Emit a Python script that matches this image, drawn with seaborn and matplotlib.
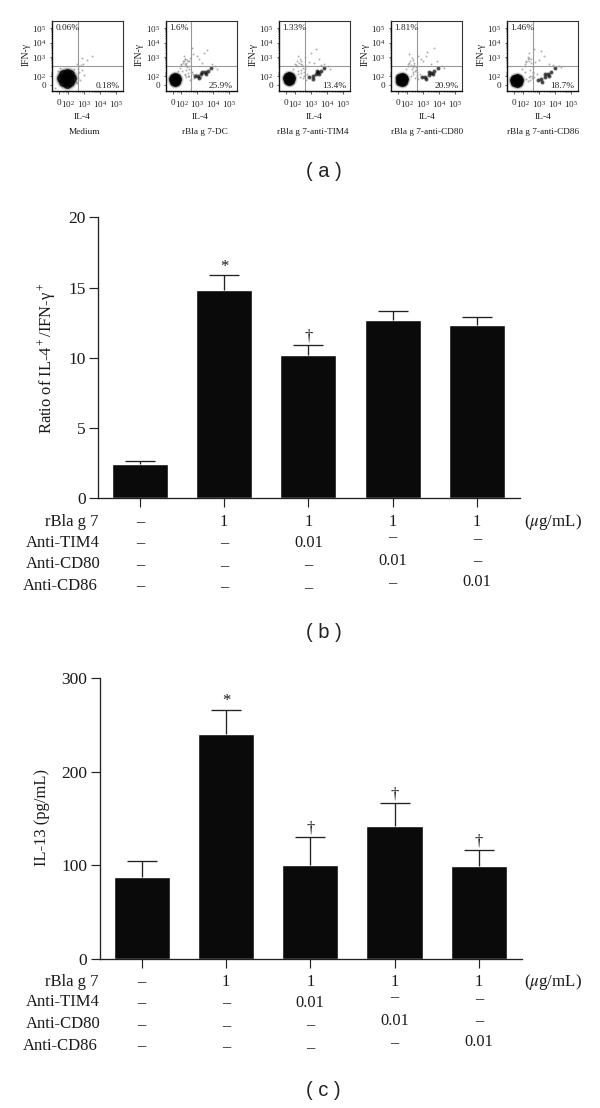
import matplotlib
matplotlib.use('Agg')
import matplotlib.pyplot as plt
import matplotlib.transforms as mtrans
import numpy as np
import seaborn as sns

# panel (a) - flow plots
flow_titles = ['Medium', 'rBla g 7-DC', 'rBla g 7-anti-TIM4', 'rBla g 7-anti-CD80', 'rBla g 7-anti-CD86']
upper_left = ['0.06%', '1.6%', '1.33%', '1.81%', '1.46%']
lower_right = ['0.18%', '25.9%', '13.4%', '20.9%', '18.7%']

# events read by eye, x and y in decades of the axes
blob_x = [
    [1.92, 1.59, 2.25, 1.92, 1.92, 1.69, 2.15, 1.69, 2.15],
    [1.6, 1.4, 1.8, 1.6, 1.6, 1.46, 1.74, 1.46, 1.74],
    [1.64, 1.44, 1.84, 1.64, 1.64, 1.5, 1.78, 1.5, 1.78],
    [1.67, 1.47, 1.87, 1.67, 1.67, 1.53, 1.81, 1.53, 1.81],
    [1.6, 1.4, 1.8, 1.6, 1.6, 1.46, 1.74, 1.46, 1.74],
]
blob_y = [
    [1.53, 1.53, 1.53, 1.13, 1.93, 1.25, 1.25, 1.81, 1.81],
    [1.48, 1.48, 1.48, 1.24, 1.72, 1.31, 1.31, 1.65, 1.65],
    [1.53, 1.53, 1.53, 1.29, 1.77, 1.36, 1.36, 1.7, 1.7],
    [1.48, 1.48, 1.48, 1.24, 1.72, 1.31, 1.31, 1.65, 1.65],
    [1.41, 1.41, 1.41, 1.17, 1.65, 1.24, 1.24, 1.58, 1.58],
]
cluster_x = [
    [],
    [2.85, 3.05, 3.25, 3.45, 3.65, 3.85, 3.3, 3.55, 3.1],
    [2.9, 3.1, 3.3, 3.45, 3.6, 3.8, 3.35, 3.5, 3.15],
    [2.95, 3.15, 3.35, 3.5, 3.7, 3.95, 3.4, 3.6, 3.2],
    [2.95, 3.15, 3.35, 3.55, 3.75, 4.0, 3.4, 3.65, 3.2],
]
cluster_y = [
    [],
    [1.68, 1.72, 1.8, 1.95, 2.05, 2.25, 1.98, 1.85, 1.55],
    [1.6, 1.7, 1.8, 1.95, 2.05, 2.22, 2.02, 1.82, 1.5],
    [1.6, 1.65, 1.75, 1.9, 2.05, 2.25, 1.98, 1.85, 1.48],
    [1.42, 1.5, 1.62, 1.8, 1.98, 2.22, 1.85, 1.72, 1.3],
]
sparse_x = [
    [2.7, 2.85, 2.6, 2.95, 3.2, 3.5, 2.75, 2.55, 3.0, 1.2, 2.9, 2.65, 2.5, 2.45, 2.6, 1.35, 1.5, 2.4, 2.55, 2.7, 2.8],
    [1.9, 2.0, 2.1, 2.2, 2.3, 2.45, 2.55, 2.15, 2.35, 2.05, 2.7, 2.9, 3.1, 3.3, 3.6, 3.9, 4.1, 2.4, 2.6, 2.8, 2.5, 3.0, 3.4, 2.25, 2.65, 4.2, 1.8, 3.2,
     2.0, 2.1, 2.2, 2.3, 2.4, 2.15, 2.25, 2.35, 2.2, 2.3, 2.5, 2.6, 2.7, 2.3, 2.4, 2.55, 2.45, 2.65],
    [1.9, 2.05, 2.15, 2.3, 2.4, 2.5, 2.6, 2.75, 2.85, 3.0, 3.2, 3.5, 3.8, 4.05, 2.2, 2.55, 2.35, 2.7, 3.3, 3.6, 4.2,
     2.0, 2.1, 2.25, 2.35, 2.2, 2.3, 2.4, 2.5, 2.6, 2.7, 2.2, 2.45, 2.55, 2.65],
    [1.95, 2.05, 2.2, 2.3, 2.45, 2.55, 2.7, 2.8, 3.0, 3.25, 3.5, 3.9, 4.2, 2.15, 2.4, 2.6, 2.35, 2.9, 3.2, 3.7, 4.3, 2.5,
     2.05, 2.15, 2.25, 2.35, 2.25, 2.4, 2.5, 2.6, 2.7, 2.3, 2.45, 2.55, 2.65],
    [1.95, 2.1, 2.2, 2.3, 2.4, 2.5, 2.6, 2.7, 2.85, 3.0, 3.3, 3.6, 3.9, 4.25, 2.15, 2.45, 2.55, 2.35, 2.75, 3.1, 2.65, 4.35,
     2.1, 2.2, 2.3, 2.4, 2.5, 2.35, 2.45, 2.55, 2.2, 2.3, 2.45, 2.6, 2.7],
]
sparse_y = [
    [2.35, 2.1, 1.9, 2.55, 2.8, 3.05, 1.4, 2.5, 1.75, 0.9, 2.95, 2.2, 1.3, 1.7, 1.55, 2.05, 2.25, 2.15, 1.2, 1.95, 2.45],
    [2.25, 2.5, 2.7, 2.85, 2.6, 2.75, 2.95, 3.1, 2.3, 2.05, 3.2, 1.8, 2.9, 2.6, 3.5, 2.55, 2.4, 1.7, 1.95, 1.55, 2.15, 3.05, 3.3, 1.85, 3.6, 2.15, 2.05, 1.6,
     2.45, 2.6, 2.5, 2.45, 2.7, 2.75, 2.9, 2.8, 1.75, 1.6, 1.7, 1.5, 1.8, 2.1, 1.9, 1.4, 2.4, 2.0],
    [2.2, 2.45, 2.7, 2.9, 2.55, 2.25, 3.0, 1.85, 2.65, 3.3, 2.6, 2.85, 2.55, 2.4, 3.1, 1.7, 1.9, 2.35, 3.55, 2.45, 2.2,
     2.5, 2.35, 2.6, 2.75, 1.8, 1.6, 2.1, 1.55, 1.75, 1.45, 2.05, 2.45, 1.95, 2.15],
    [2.15, 2.5, 2.75, 2.95, 2.6, 2.3, 3.1, 1.85, 2.7, 3.35, 2.55, 2.75, 2.4, 3.2, 1.85, 1.65, 2.3, 2.9, 3.05, 3.6, 2.25, 2.05,
     2.4, 2.6, 2.45, 2.8, 1.7, 1.95, 1.55, 1.75, 1.5, 2.15, 2.45, 2.1, 1.95],
    [2.2, 2.5, 2.75, 3.0, 3.25, 2.6, 2.3, 3.55, 1.8, 2.8, 3.1, 2.55, 2.45, 2.4, 1.95, 1.7, 1.55, 2.95, 2.65, 3.4, 1.9, 2.3,
     2.4, 2.65, 2.85, 2.7, 2.9, 1.6, 1.45, 1.7, 1.5, 1.35, 2.1, 2.0, 1.6],
]

# panels (b) and (c) - bars
groups = ['Medium', 'DC', 'TIM4', 'CD80', 'CD86']
ratio_mean = [2.47, 14.8, 10.23, 12.69, 12.31]
ratio_err = [0.21, 1.07, 0.68, 0.64, 0.57]
ratio_marks = ['', '*', '†', '', '']
il13_mean = [86.8, 240, 100, 141.3, 98.6]
il13_err = [17.9, 25.7, 30, 25.2, 17.7]
il13_marks = ['', '*', '†', '†', '†']

# dose table under the bars
row_names = ['rBla g 7', 'Anti-TIM4', 'Anti-CD80', 'Anti-CD86']
dose_rows = [
    ['–', '1', '1', '1', '1'],
    ['–', '–', '0.01', '–', '–'],
    ['–', '–', '–', '0.01', '–'],
    ['–', '–', '–', '–', '0.01'],
]

W, H = 600, 1108
BLACK = '#0a0a0a'

# layout, in pixels of the picture
flow_left = [52, 165.5, 279, 391, 507]
flow_il4_x = [81.7, 200, 314, 426.7, 542.7]
flow_title_x = [85, 205, 313, 427, 543.3]
row_label_right = [98.5, 99.5, 100.5, 98]
row_y = [521.7, 542.5, 564.5, 586]
cell_y = [
    [521.7, 521.7, 521.7, 521.7, 521.7],
    [542.7, 542.7, 542.7, 537.3, 538.7],
    [565.3, 566, 565.3, 561, 560.7],
    [586, 587, 587.7, 582.7, 581.7],
]

sns.set_theme(style='white')
plt.rcParams['font.family'] = ['Liberation Serif', 'DejaVu Serif']
plt.rcParams['mathtext.fontset'] = 'stix'
plt.rcParams['mathtext.default'] = 'regular'

fig = plt.figure(figsize=(W / 100, H / 100), dpi=100, facecolor='white')


def add_axes_px(left, top, right, bottom):
    return fig.add_axes([left / W, 1 - bottom / H, (right - left) / W, (bottom - top) / H])


def text_px(x, y, s, **kw):
    kw.setdefault('ha', 'center')
    kw.setdefault('va', 'center')
    kw.setdefault('color', '#1a1a1a')
    return fig.text(x / W, 1 - y / H, s, **kw)


def soft_dots(ax, xs, ys, size, core):
    # overlapping dots, soft edge then dark core
    sns.scatterplot(x=xs, y=ys, ax=ax, color='black', s=size * 2.4, alpha=0.09, linewidth=0)
    sns.scatterplot(x=xs, y=ys, ax=ax, color='black', s=size * 1.5, alpha=0.22, linewidth=0)
    sns.scatterplot(x=xs, y=ys, ax=ax, color='black', s=size, alpha=core, linewidth=0)


def flow_plot(i):
    left = flow_left[i]
    ax = add_axes_px(left, 20.5, left + 71, 91)

    # light events first, the dense populations on top
    sns.scatterplot(x=sparse_x[i], y=sparse_y[i], ax=ax, color='#7a7a7a', s=2, alpha=0.6, linewidth=0)
    soft_dots(ax, blob_x[i], blob_y[i], 40 if i == 0 else 25, 0.85)
    if cluster_x[i]:
        soft_dots(ax, cluster_x[i], cluster_y[i], 6, 0.6)

    ax.axvline(2.62, color='#999999', lw=0.8)
    ax.axhline(2.38, color='#999999', lw=0.8)

    ax.set_xlim(1.0, 5.44)
    ax.set_ylim(0.66, 5.52)
    ax.set_xticks([1.44, 2, 3, 4, 5])
    ax.set_xticklabels(['0', '$10^2$', '$10^3$', '$10^4$', '$10^5$'])
    ax.set_yticks([1.08, 1.66, 3, 4, 5])
    ax.set_yticklabels(['0', '$10^2$', '$10^3$', '$10^4$', '$10^5$'])
    # log minor ticks inside each decade
    minor = [d + np.log10(m) for d in [1, 2, 3, 4] for m in range(2, 10)]
    ax.set_xticks([v for v in minor if v < 5.44], minor=True)
    ax.set_yticks([v for v in minor if v > 1.7], minor=True)
    ax.tick_params(axis='both', labelsize=6.6, length=1.8, width=0.5, pad=2.2, colors='#222222',
                   bottom=True, left=True)
    ax.tick_params(axis='both', which='minor', length=1, width=0.4, color='#333333', bottom=True, left=True)
    ax.tick_params(axis='x', pad=4)
    for side in ['left', 'bottom']:
        ax.spines[side].set_linewidth(1.0)
        ax.spines[side].set_color('#111111')
    for side in ['top', 'right']:
        ax.spines[side].set_linewidth(0.8)
        ax.spines[side].set_color('#333333')

    ax.text(0.05, 0.9, upper_left[i], transform=ax.transAxes, fontsize=6.7, ha='left', va='center', color='#222222')
    ax.text(0.95, 0.075, lower_right[i], transform=ax.transAxes, fontsize=6.7, ha='right', va='center', color='#222222')

    text_px(left - 26, 55, 'IFN-γ', fontsize=6.9, rotation=90)
    text_px(flow_il4_x[i], 116.7, 'IL-4', fontsize=6.8)
    text_px(flow_title_x[i], 131.7, flow_titles[i], fontsize=6.7)


def bar_plot(means, errs, marks, ymax, step, ylabel, label_x, label_y, left, top, bottom, shift):
    ax = add_axes_px(left, top, left + 422.3, bottom)
    sns.barplot(x=groups, y=means, ax=ax, color=BLACK, saturation=1, width=0.665)
    bars = ax.errorbar(range(len(groups)), means, yerr=[[0] * len(errs), errs], fmt='none',
                       ecolor='#222222', elinewidth=0.95, capsize=10.5, capthick=0.95)
    # only the upper cap is drawn
    bars[1][0].set_visible(False)

    ax.set_xlim(-0.5, 4.51)
    ax.set_ylim(0, ymax)
    ax.set_yticks(range(0, ymax + 1, step))
    ax.set_xticks(range(len(groups)))
    ax.set_xticklabels([])
    ax.tick_params(axis='both', length=6.2, width=0.85, color='#222222', left=True, bottom=True)
    ax.tick_params(axis='y', labelsize=12.5, pad=2.5, labelcolor='#1a1a1a')
    sns.despine(ax=ax)
    for side in ['left', 'bottom']:
        ax.spines[side].set_linewidth(0.95)
        ax.spines[side].set_color('#222222')
    ax.set_ylabel('')

    # significance marks sit just above the error bars
    for i, mark in enumerate(marks):
        if mark:
            ax.annotate(mark, (i, means[i] + errs[i]), xytext=(0, 6.3), textcoords='offset points',
                        ha='center', va='center', fontsize=12, color='#1a1a1a')

    text_px(label_x, label_y, ylabel, fontsize=11.9, rotation=90)

    # dose table, columns follow the bars
    cols = mtrans.blended_transform_factory(ax.transData, fig.transFigure)
    for r, name in enumerate(row_names):
        text_px(row_label_right[r], row_y[r] + shift, name, fontsize=12, ha='right')
        for c, dose in enumerate(dose_rows[r]):
            ax.text(c, 1 - (cell_y[r][c] + shift) / H, dose, transform=cols, fontsize=11.8,
                    ha='center', va='center', color='#1a1a1a', clip_on=False)
    text_px(553, row_y[0] + shift, r'($\mathit{\mu}$g/mL)', fontsize=12.2)


for i in range(len(flow_titles)):
    flow_plot(i)

bar_plot(ratio_mean, ratio_err, ratio_marks, 20, 5, r'Ratio of IL-4$^+$/IFN-$\gamma^+$',
         47, 358, 97.7, 217.3, 498.3, 0)
bar_plot(il13_mean, il13_err, il13_marks, 300, 100, 'IL-13 (pg/mL)',
         42, 818, 99.5, 678, 958.7, 460)

# panel letters
for letter, y in [('( a )', 171.5), ('( b )', 632), ('( c )', 1091)]:
    text_px(323.5, y, letter, fontsize=14.5, family=['Liberation Sans'], color='#222222')

fig.savefig('out.png', dpi=100, facecolor='white')
